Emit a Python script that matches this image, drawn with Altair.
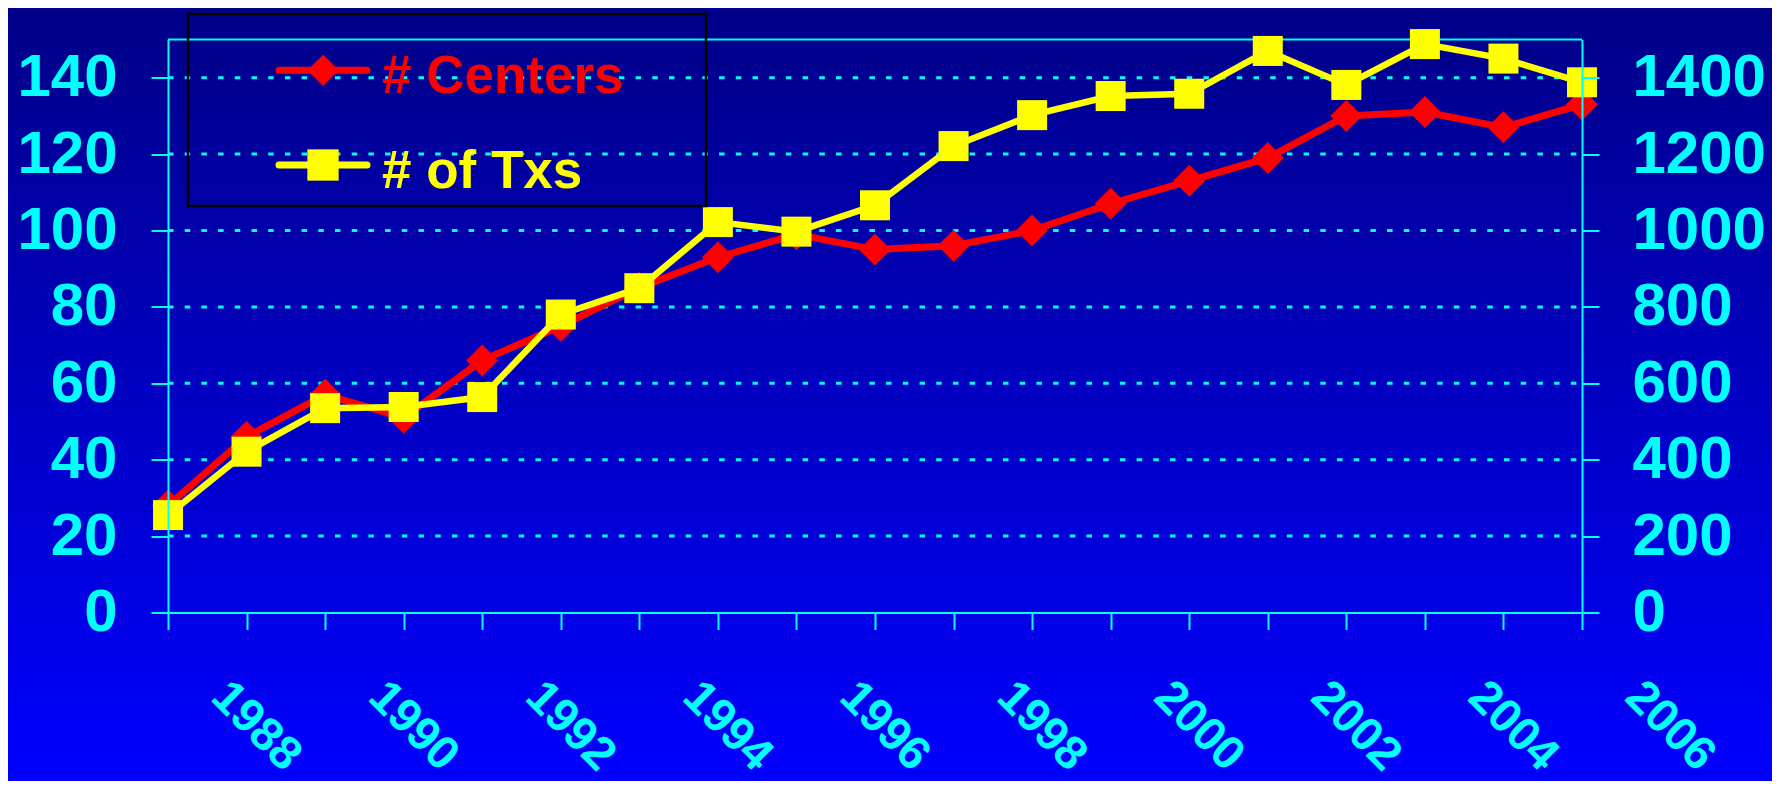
import altair as alt
import pandas as pd

# ---------------- data ----------------
years = list(range(1988, 2007))
centers = [28, 46, 57, 51, 66, 75, 85, 93, 99, 95, 96, 100, 107, 113, 119, 130, 131, 127, 133]
txs = [255, 421, 535, 538, 564, 780, 849, 1022, 997, 1066, 1221, 1302, 1352, 1358, 1470, 1381, 1488, 1450, 1388]
series_names = ["# Centers", "# of Txs"]
series_colors = ["#FF0000", "#FFFF00"]
series_shapes = ["diamond", "square"]
left_ticks = [0, 20, 40, 60, 80, 100, 120, 140]
right_ticks = [0, 200, 400, 600, 800, 1000, 1200, 1400]
grid_values = [20, 40, 60, 80, 100, 120, 140]

# ---------------- styling / layout ----------------
CYAN = "#00FFFF"
RED = series_colors[0]
YELLOW = series_colors[1]
FONT = "Liberation Sans"
W, H = 1414, 573                       # plot area
PAD_L, PAD_T, PAD_R, PAD_B = 160, 31.5, 190, 168.5

df = pd.DataFrame({"year": years, "centers": centers, "txs": txs})
grid_df = pd.DataFrame({"v": grid_values})
legend_df = pd.DataFrame({"series": series_names, "row": list(range(len(series_names)))})
one = pd.DataFrame({"k": [0]})

x_scale = alt.Scale(domain=[years[0], years[-1]], nice=False, zero=False)
left_scale = alt.Scale(domain=[0, 150], nice=False, zero=True)
right_scale = alt.Scale(domain=[0, 1500], nice=False, zero=True)

common_axis = dict(
    title=None, grid=False, format="d", labelColor=CYAN, labelFont=FONT, labelFontWeight="bold",
    labelOverlap=False, tickColor=CYAN, tickSize=17, tickWidth=2,
    domainColor=CYAN, domainWidth=2, zindex=1,
)

x_axis = alt.Axis(
    values=years,
    labelExpr="datum.value % 2 == 0 ? datum.label : ''",
    labelAngle=45, labelAlign="left", labelBaseline="top",
    labelOffset=67, labelPadding=43, labelFlush=False, labelFontSize=47,
    **common_axis,
)
left_axis = alt.Axis(orient="left", values=left_ticks, labelPadding=34, labelFontSize=60, **common_axis)
right_axis = alt.Axis(orient="right", values=right_ticks, labelPadding=33, labelFontSize=60, **common_axis)

X = alt.X("year:Q", scale=x_scale, axis=x_axis)

# background gradient covering the whole chart
bg_fill = {
    "gradient": "linear", "x1": 0, "y1": 0, "x2": 0, "y2": 1,
    "stops": [{"offset": 0, "color": "#000088"}, {"offset": 1, "color": "#0000FF"}],
}
bg = alt.Chart(one).mark_rect(fill=bg_fill, strokeWidth=0).encode(
    x=alt.value(-PAD_L), x2=alt.value(W + PAD_R),
    y=alt.value(-PAD_T), y2=alt.value(H + PAD_B),
)

top_rule = alt.Chart(one).mark_rule(color=CYAN, strokeWidth=2).encode(
    x=alt.value(0), x2=alt.value(W), y=alt.value(0)
)
grid = alt.Chart(grid_df).mark_rule(color=CYAN, strokeWidth=3, strokeDash=[5.5, 11.2]).encode(
    y=alt.Y("v:Q", scale=left_scale, axis=left_axis),
    x=alt.value(0), x2=alt.value(W),
)
YL = alt.Y("centers:Q", scale=left_scale, axis=left_axis)
red_line = alt.Chart(df).mark_line(color=RED, strokeWidth=7).encode(x=X, y=YL)
red_pts = alt.Chart(df).mark_point(shape="diamond", filled=True, size=1024, color=RED, opacity=1).encode(x=X, y=YL)

YR = alt.Y("txs:Q", scale=right_scale, axis=right_axis)
yel_line = alt.Chart(df).mark_line(color=YELLOW, strokeWidth=6.5).encode(x=X, y=YR)
yel_pts = alt.Chart(df).mark_point(shape="square", filled=True, size=900, color=YELLOW, opacity=1).encode(x=X, y=YR)

# legend (box + two entries)
leg_y = alt.Y("row:Q", scale=alt.Scale(domain=[0, 1], range=[30.8, 125.5]), axis=None)
leg_color = alt.Color("series:N", scale=alt.Scale(domain=series_names, range=series_colors), legend=None)
leg_shape = alt.Shape("series:N", scale=alt.Scale(domain=series_names, range=series_shapes), legend=None)
leg_box = alt.Chart(one).mark_rect(fillOpacity=0, stroke="black", strokeWidth=2.5).encode(
    x=alt.value(20), x2=alt.value(538), y=alt.value(-25.5), y2=alt.value(166.5)
)
leg_line = alt.Chart(legend_df).mark_rule(strokeWidth=7, strokeCap="round").encode(
    x=alt.value(111), x2=alt.value(199), y=leg_y, color=leg_color
)
leg_sym = alt.Chart(legend_df).mark_point(filled=True, size=980, opacity=1).encode(
    x=alt.value(155), y=leg_y, color=leg_color, shape=leg_shape
)
leg_text = alt.Chart(legend_df).mark_text(
    align="left", baseline="alphabetic", dy=23, font=FONT, fontSize=53, fontWeight="bold"
).encode(x=alt.value(214), y=leg_y, text="series:N", color=leg_color)

left_group = alt.layer(top_rule, grid, red_line, red_pts)
right_group = alt.layer(yel_line, yel_pts)
legend_group = alt.layer(leg_box, leg_line, leg_sym, leg_text)

chart = (
    alt.layer(bg, left_group, right_group, legend_group)
    .resolve_scale(y="independent")
    .properties(
        width=W, height=H,
        padding={"left": PAD_L, "top": PAD_T, "right": PAD_R, "bottom": PAD_B},
        autosize=alt.AutoSizeParams(type="none"),
        background="#0000FF",
    )
    .configure_view(strokeWidth=0)
)

chart.save("out.html", embed_options={"renderer": "svg", "actions": False})
